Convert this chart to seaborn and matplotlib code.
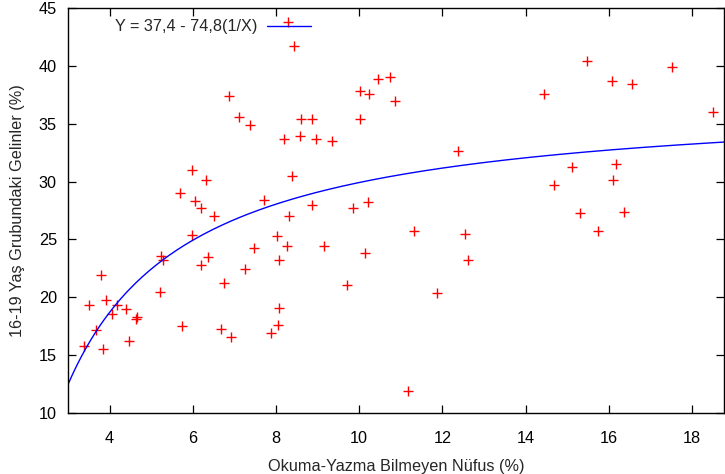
import numpy as np
import pandas as pd
import seaborn as sns
import matplotlib
matplotlib.use("Agg")
import matplotlib.pyplot as plt

# Data
illiterate = [8.28, 8.42, 6.87, 7.11, 7.37, 8.59, 8.86, 8.18, 8.58, 8.95,
              5.97, 6.31, 5.70, 6.05, 6.20, 6.52, 5.97, 5.24, 5.29, 6.37,
              6.20, 7.46, 7.26, 6.74, 7.70, 8.38, 8.86, 8.30, 8.02, 8.26,
              8.07, 8.06, 8.05, 7.87, 6.92, 6.68, 5.74, 5.22, 3.79, 3.51,
              3.92, 4.17, 4.05, 4.40, 4.63, 4.67, 3.67, 3.38, 3.83, 4.47,
              10.02, 10.24, 10.44, 10.74, 10.87, 10.02, 9.35, 9.85, 10.20, 12.38,
              14.68, 11.31, 12.53, 12.61, 9.15, 10.14, 9.70, 11.86, 11.16, 15.48,
              17.52, 16.08, 16.56, 14.43, 18.50, 15.12, 16.17, 16.09, 15.31, 16.37,
              15.75]
brides = [43.8, 41.7, 37.4, 35.6, 34.9, 35.4, 35.4, 33.7, 33.9, 33.7,
          31.0, 30.1, 29.0, 28.3, 27.7, 27.0, 25.4, 23.6, 23.2, 23.5,
          22.8, 24.25, 22.45, 21.2, 28.45, 30.5, 28.0, 27.0, 25.3, 24.4,
          23.2, 19.1, 17.6, 16.9, 16.6, 17.3, 17.5, 20.5, 21.95, 19.3,
          19.8, 19.35, 18.55, 19.0, 18.1, 18.3, 17.15, 15.8, 15.55, 16.25,
          37.85, 37.6, 38.9, 39.05, 37.0, 35.45, 33.5, 27.7, 28.2, 32.65,
          29.7, 25.75, 25.45, 23.2, 24.45, 23.8, 21.1, 20.35, 11.9, 40.4,
          39.9, 38.7, 38.4, 37.6, 36.05, 31.3, 31.55, 30.15, 27.25, 27.35,
          25.7]

# fitted model Y = a - b(1/X)
fit_a = 37.4
fit_b = 74.8
fit_label = "Y = 37,4 - 74,8(1/X)"

x_min, x_max = 3.0, 18.77

df = pd.DataFrame({"x": illiterate, "y": brides})
curve_x = np.linspace(x_min, x_max, 300)
curve = pd.DataFrame({"x": curve_x, "y": fit_a - fit_b / curve_x})

sns.set_style("ticks")
plt.rcParams["font.family"] = ["Liberation Sans", "DejaVu Sans"]
fs = 11.7

fig = plt.figure(figsize=(7.25, 4.74), dpi=100)
ax = fig.add_axes([0.0938, 0.1287, 0.905, 0.8544])

sns.lineplot(data=curve, x="x", y="y", color="#0000ff", linewidth=1.0,
             label=fit_label, ax=ax)
sns.scatterplot(data=df, x="x", y="y", marker="+", color="#ff0000", s=60,
                linewidth=1.0, ax=ax, legend=False)

ax.set_xlim(x_min, x_max)
ax.set_ylim(10, 45)
ax.set_xticks(range(4, 19, 2))
ax.set_yticks(range(10, 46, 5))
ax.tick_params(direction="in", length=6, width=0.9, top=True, right=True,
               labelsize=fs, colors="black", pad=8)
ax.tick_params(axis="x", pad=13)
for s in ax.spines.values():
    s.set_linewidth(1.0)
    s.set_color("black")

ax.set_xlabel("Okuma-Yazma Bilmeyen Nüfus (%)", fontsize=fs, labelpad=9)
ax.set_ylabel("16-19 Yaş Grubundaki Gelinler (%)", fontsize=fs, labelpad=10)

ax.legend(loc="upper left", bbox_to_anchor=(0.05, 1.008), frameon=False,
          markerfirst=False, handlelength=2.7, handletextpad=0.55,
          fontsize=fs)

fig.savefig("out.png", dpi=100)
